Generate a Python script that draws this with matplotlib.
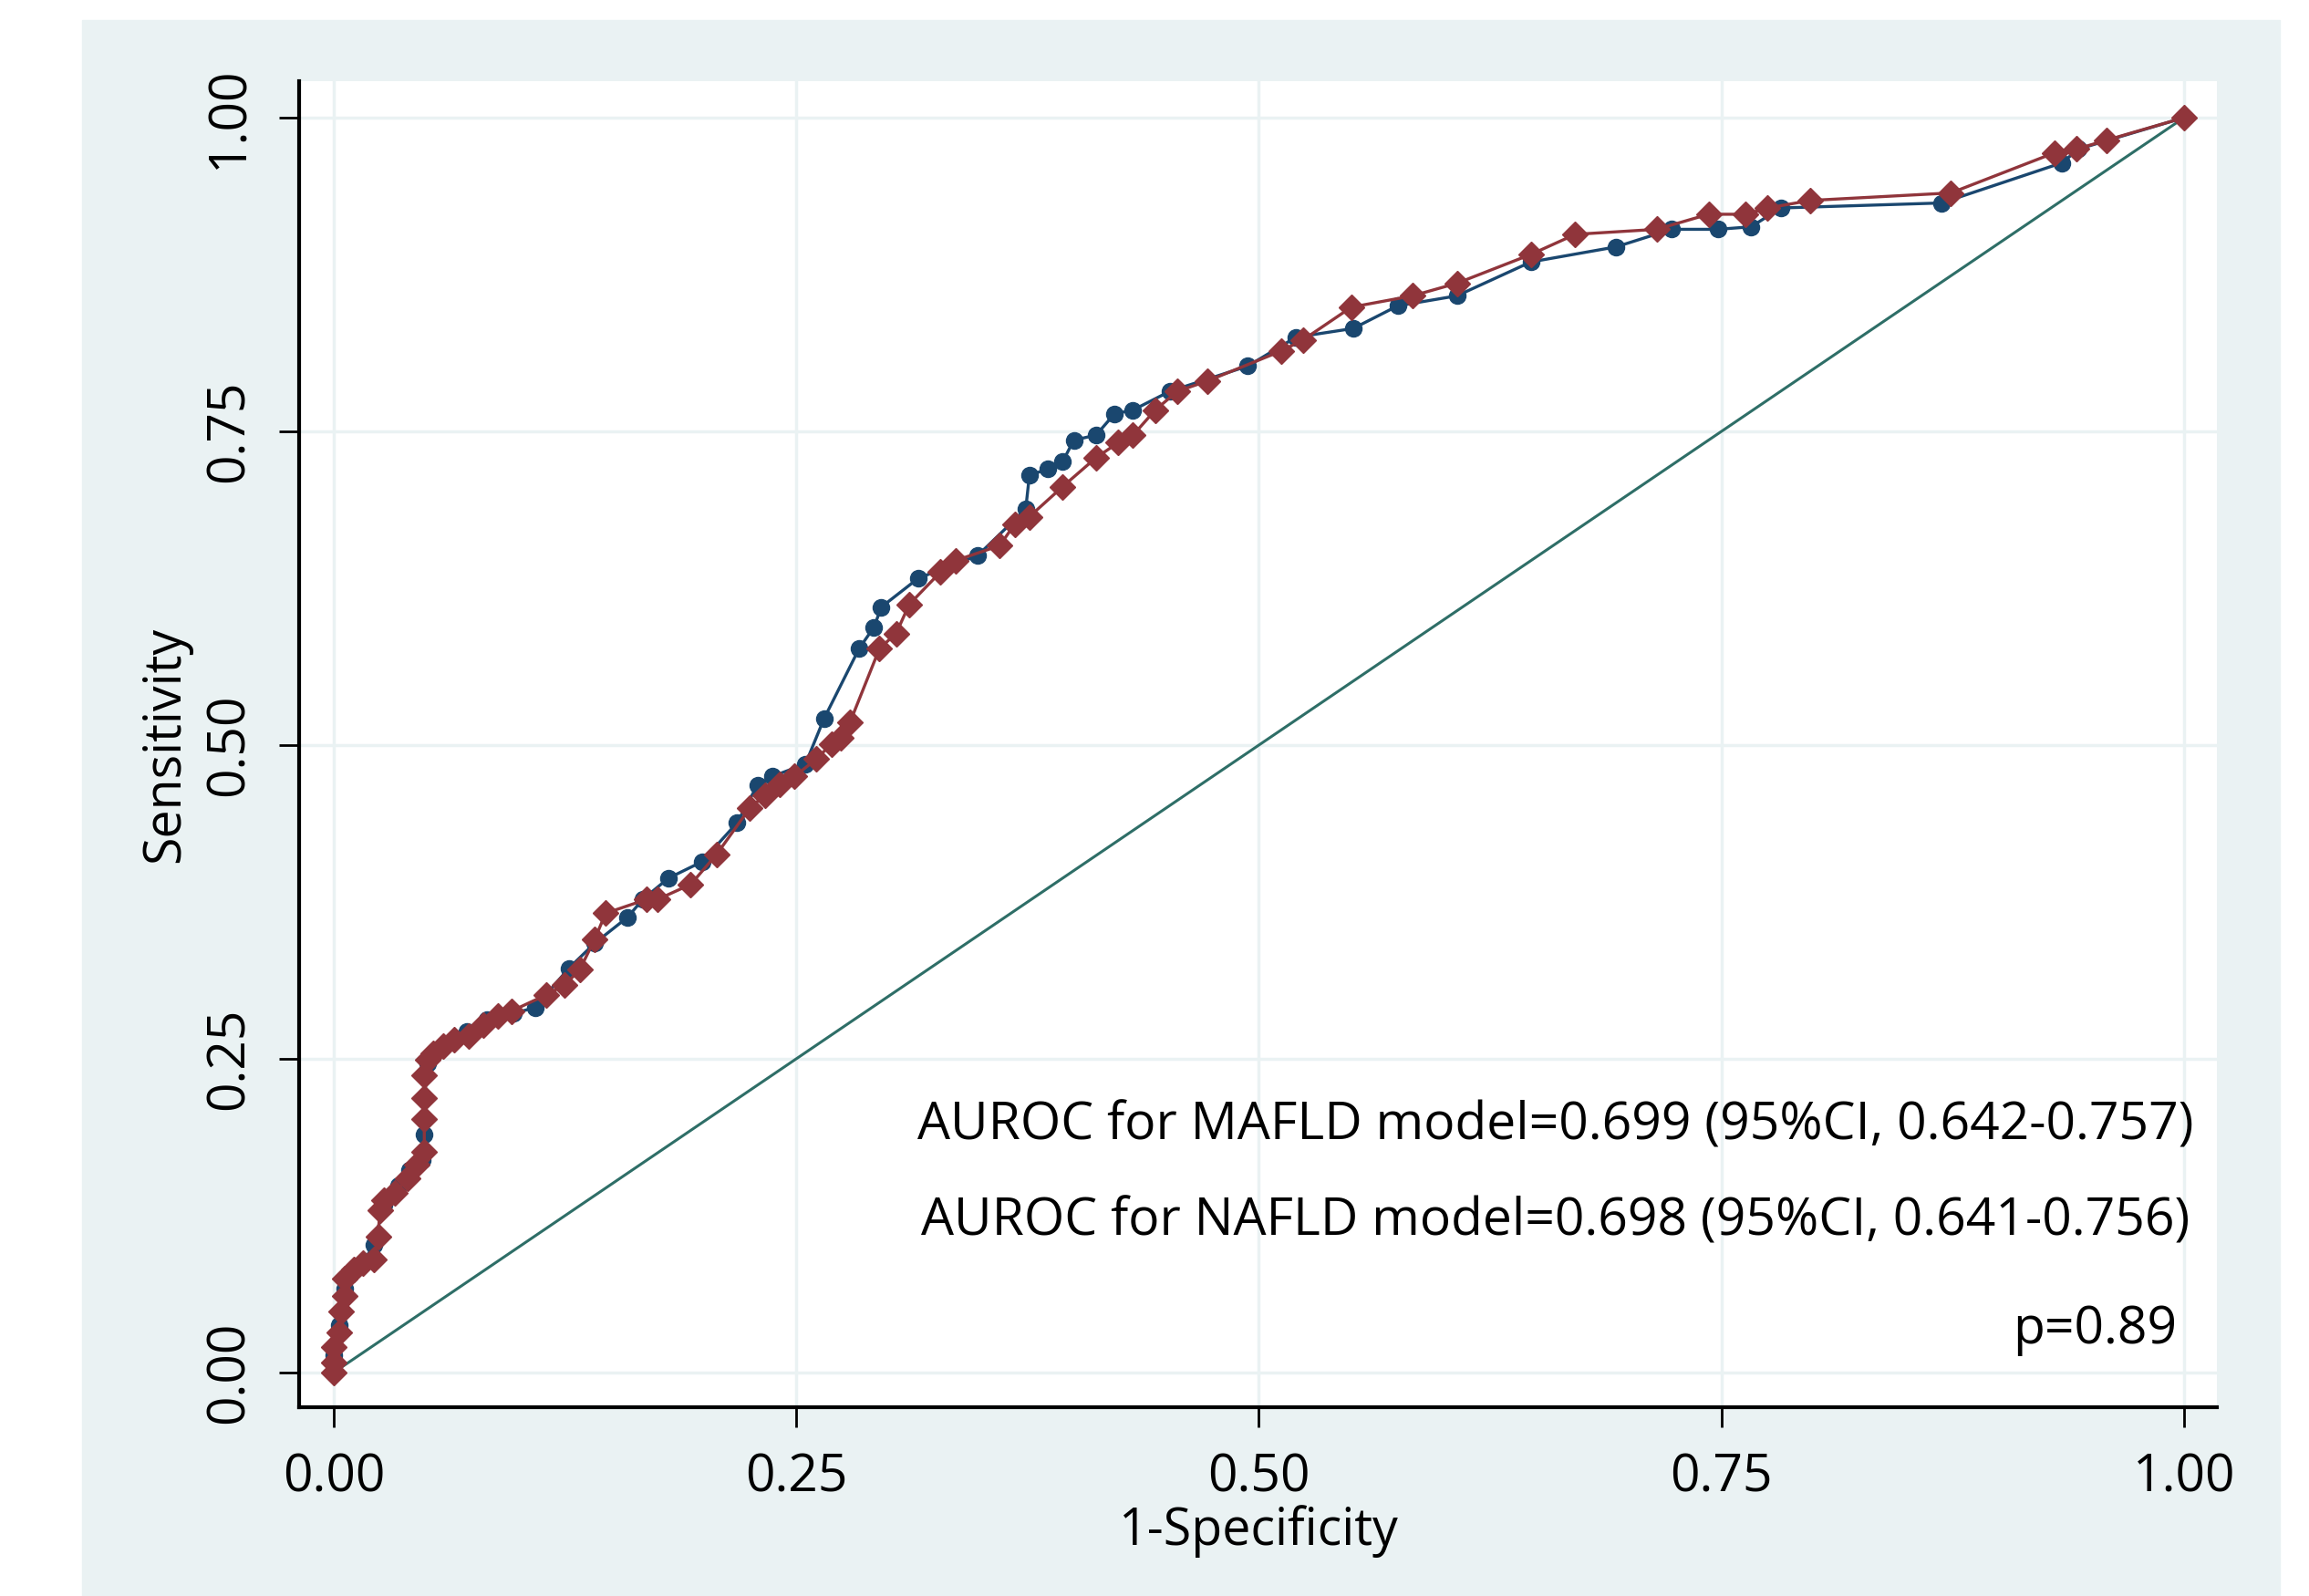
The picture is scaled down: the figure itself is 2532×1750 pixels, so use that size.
import matplotlib.pyplot as plt
from matplotlib.patches import Rectangle

plt.rcParams["font.family"] = ["Open Sans", "DejaVu Sans"]

# ROC points (1-specificity, sensitivity)
mafld_fpr = [0, 0, 0.003, 0.006, 0.014, 0.022, 0.027, 0.035, 0.041, 0.048, 0.049, 0.049,
             0.051, 0.057, 0.072, 0.083, 0.097, 0.109, 0.127, 0.141, 0.159, 0.167, 0.181,
             0.199, 0.218, 0.229, 0.237, 0.255, 0.265, 0.284, 0.292, 0.296, 0.316, 0.348,
             0.374, 0.376, 0.386, 0.394, 0.400, 0.412, 0.422, 0.432, 0.452, 0.494, 0.520,
             0.551, 0.575, 0.607, 0.647, 0.693, 0.723, 0.748, 0.766, 0.782, 0.869, 0.934,
             0.943, 1.0]
mafld_tpr = [0, 0.014, 0.038, 0.067, 0.084, 0.102, 0.134, 0.149, 0.161, 0.169, 0.190, 0.219,
             0.246, 0.258, 0.272, 0.281, 0.286, 0.291, 0.322, 0.342, 0.363, 0.377, 0.394,
             0.407, 0.438, 0.468, 0.475, 0.485, 0.521, 0.577, 0.594, 0.610, 0.633, 0.651,
             0.688, 0.715, 0.720, 0.726, 0.743, 0.747, 0.764, 0.767, 0.782, 0.802, 0.825,
             0.832, 0.850, 0.858, 0.885, 0.897, 0.911, 0.911, 0.913, 0.928, 0.932, 0.964,
             0.975, 1.0]

nafld_fpr = [0, 0, 0, 0.003, 0.004, 0.006, 0.006, 0.011, 0.016, 0.022, 0.024, 0.025, 0.027,
             0.033, 0.040, 0.045, 0.049, 0.049, 0.049, 0.049, 0.051, 0.054, 0.059, 0.065,
             0.073, 0.081, 0.089, 0.096, 0.115, 0.125, 0.133, 0.141, 0.147, 0.169, 0.175,
             0.193, 0.207, 0.225, 0.233, 0.241, 0.249, 0.261, 0.269, 0.274, 0.279, 0.295,
             0.304, 0.311, 0.328, 0.336, 0.360, 0.368, 0.376, 0.394, 0.412, 0.424, 0.432,
             0.444, 0.456, 0.472, 0.512, 0.524, 0.550, 0.583, 0.607, 0.647, 0.671, 0.715,
             0.743, 0.763, 0.775, 0.798, 0.874, 0.930, 0.942, 0.958, 1.0]
nafld_tpr = [0, 0.008, 0.020, 0.032, 0.049, 0.061, 0.075, 0.082, 0.087, 0.090, 0.108, 0.129,
             0.137, 0.143, 0.155, 0.166, 0.176, 0.202, 0.219, 0.237, 0.249, 0.254, 0.260,
             0.265, 0.268, 0.277, 0.284, 0.288, 0.301, 0.309, 0.321, 0.345, 0.366, 0.377,
             0.377, 0.389, 0.413, 0.450, 0.460, 0.469, 0.475, 0.489, 0.501, 0.506, 0.518,
             0.577, 0.589, 0.612, 0.638, 0.647, 0.659, 0.676, 0.682, 0.706, 0.729, 0.741,
             0.747, 0.767, 0.782, 0.790, 0.814, 0.823, 0.849, 0.858, 0.868, 0.891, 0.907,
             0.911, 0.923, 0.923, 0.928, 0.934, 0.940, 0.972, 0.975, 0.982, 1.0]

ref_line = [0, 1]
ticks = [0, 0.25, 0.5, 0.75, 1.0]
tick_labels = ["0.00", "0.25", "0.50", "0.75", "1.00"]

notes = [
    "AUROC for MAFLD model=0.699 (95%CI, 0.642-0.757)",
    "AUROC for NAFLD model=0.698 (95%CI, 0.641-0.756)",
    "p=0.89",
]

bg = "#EAF2F3"
navy = "#1A476F"
maroon = "#90353B"
teal = "#2E6E67"

fig = plt.figure(figsize=(25.32, 17.5), dpi=100)
# light graph region behind the white plot region
band = Rectangle((90 / 2532, 0), 2410 / 2532, 1728 / 1750,
                 transform=fig.transFigure, color=bg, zorder=-10)
fig.add_artist(band)

ax = fig.add_axes([0.1295, 0.1183, 0.8306, 0.8308])
ax.set_zorder(1)
ax.set_facecolor("white")
ax.set_xlim(-0.0187, 1.0177)
ax.set_ylim(-0.0276, 1.029)

ax.plot(mafld_fpr, mafld_tpr, color=navy, lw=2.4, marker="o", ms=13, zorder=3)
ax.plot(nafld_fpr, nafld_tpr, color=maroon, lw=2.4, marker="D", ms=14, zorder=4)
ax.plot(ref_line, ref_line, color=teal, lw=2.2, zorder=2)

ax.set_xticks(ticks)
ax.set_xticklabels(tick_labels)
ax.set_yticks(ticks)
ax.set_yticklabels(tick_labels, rotation=90, va="center")
ax.grid(color=bg, lw=2.5)
ax.set_axisbelow(True)

for s in ["top", "right"]:
    ax.spines[s].set_visible(False)
for s in ["left", "bottom"]:
    ax.spines[s].set_linewidth(3)
    ax.spines[s].set_color("black")

ax.tick_params(axis="both", length=16, width=2, labelsize=41, color="black")
ax.tick_params(axis="x", pad=20)
ax.tick_params(axis="y", pad=18)

ax.set_xlabel("1-Specificity", fontsize=40, labelpad=0)
ax.set_ylabel("Sensitivity", fontsize=40, labelpad=10)

ax.text(1.005, 0.196, notes[0], fontsize=41, ha="right", va="center")
ax.text(1.003, 0.120, notes[1], fontsize=41, ha="right", va="center")
ax.text(0.996, 0.034, notes[2], fontsize=41, ha="right", va="center")

fig.savefig("out.png", dpi=100)
